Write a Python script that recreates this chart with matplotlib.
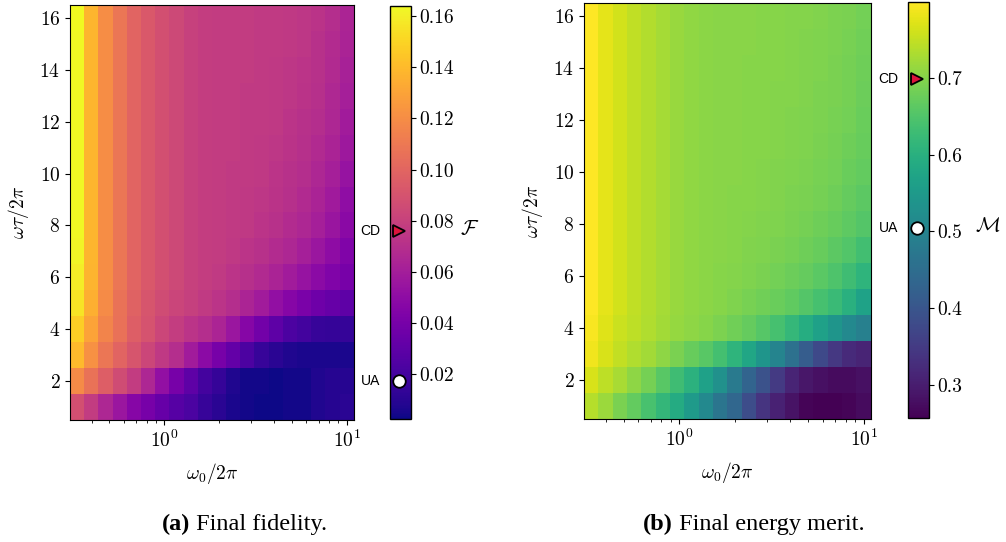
import numpy as np
import matplotlib
matplotlib.use("Agg")
import matplotlib.pyplot as plt

plt.rcParams['font.family'] = 'serif'
plt.rcParams['font.serif'] = ['cmr10']
plt.rcParams['mathtext.fontset'] = 'cm'
plt.rcParams['axes.formatter.use_mathtext'] = True
plt.rcParams['axes.unicode_minus'] = False

# drive frequency omega_0/2pi (log grid) and protocol duration omega*tau/2pi
omega0 = [0.3333, 0.3986, 0.4767, 0.5701, 0.6818, 0.8153, 0.9751, 1.1661, 1.3945, 1.6677,
          1.9944, 2.3851, 2.8523, 3.4111, 4.0793, 4.8784, 5.8341, 6.9770, 8.3438, 10.0]
omega_tau = [1, 2, 3, 4, 5, 6, 7, 8, 9, 10, 11, 12, 13, 14, 15, 16]

# final fidelity, one row per omega_tau value (bottom to top)
fidelity = [
    [0.088, 0.077, 0.065, 0.056, 0.046, 0.040, 0.033, 0.027, 0.022, 0.015, 0.010, 0.006, 0.004, 0.0024, 0.0024, 0.004, 0.004, 0.007, 0.009, 0.010],
    [0.119, 0.107, 0.096, 0.086, 0.077, 0.065, 0.052, 0.040, 0.030, 0.020, 0.014, 0.007, 0.004, 0.004, 0.0024, 0.004, 0.004, 0.007, 0.009, 0.009],
    [0.140, 0.122, 0.109, 0.099, 0.091, 0.083, 0.075, 0.069, 0.059, 0.049, 0.040, 0.032, 0.023, 0.015, 0.010, 0.007, 0.006, 0.006, 0.006, 0.006],
    [0.148, 0.130, 0.116, 0.106, 0.096, 0.090, 0.083, 0.078, 0.073, 0.069, 0.064, 0.056, 0.046, 0.038, 0.030, 0.023, 0.019, 0.015, 0.014, 0.014],
    [0.156, 0.135, 0.119, 0.107, 0.098, 0.091, 0.086, 0.082, 0.079, 0.076, 0.073, 0.069, 0.064, 0.059, 0.052, 0.046, 0.041, 0.036, 0.033, 0.030],
    [0.159, 0.137, 0.120, 0.109, 0.099, 0.093, 0.088, 0.084, 0.080, 0.078, 0.076, 0.073, 0.070, 0.067, 0.063, 0.059, 0.054, 0.049, 0.044, 0.040],
    [0.162, 0.138, 0.120, 0.109, 0.099, 0.093, 0.088, 0.084, 0.080, 0.078, 0.077, 0.075, 0.073, 0.071, 0.068, 0.065, 0.061, 0.056, 0.050, 0.044],
    [0.163, 0.138, 0.120, 0.109, 0.099, 0.093, 0.088, 0.084, 0.080, 0.078, 0.077, 0.076, 0.075, 0.073, 0.071, 0.068, 0.065, 0.061, 0.055, 0.048],
    [0.163, 0.138, 0.120, 0.109, 0.099, 0.093, 0.088, 0.084, 0.080, 0.078, 0.077, 0.076, 0.075, 0.074, 0.072, 0.070, 0.067, 0.063, 0.058, 0.051],
    [0.163, 0.138, 0.120, 0.109, 0.099, 0.093, 0.088, 0.084, 0.080, 0.078, 0.077, 0.076, 0.076, 0.075, 0.073, 0.071, 0.069, 0.065, 0.061, 0.054],
    [0.163, 0.138, 0.120, 0.109, 0.099, 0.093, 0.088, 0.084, 0.080, 0.078, 0.077, 0.077, 0.076, 0.075, 0.074, 0.072, 0.070, 0.067, 0.063, 0.057],
    [0.163, 0.138, 0.120, 0.109, 0.099, 0.093, 0.088, 0.084, 0.080, 0.078, 0.077, 0.077, 0.076, 0.076, 0.075, 0.073, 0.071, 0.069, 0.065, 0.059],
    [0.163, 0.138, 0.120, 0.109, 0.099, 0.093, 0.088, 0.084, 0.080, 0.078, 0.077, 0.077, 0.076, 0.076, 0.075, 0.074, 0.072, 0.070, 0.066, 0.061],
    [0.163, 0.138, 0.120, 0.109, 0.099, 0.093, 0.088, 0.084, 0.080, 0.078, 0.077, 0.077, 0.077, 0.076, 0.075, 0.074, 0.073, 0.071, 0.067, 0.062],
    [0.163, 0.138, 0.120, 0.109, 0.099, 0.093, 0.088, 0.084, 0.080, 0.078, 0.077, 0.077, 0.077, 0.076, 0.076, 0.075, 0.074, 0.071, 0.068, 0.063],
    [0.164, 0.138, 0.120, 0.109, 0.099, 0.093, 0.088, 0.084, 0.080, 0.078, 0.077, 0.077, 0.077, 0.076, 0.076, 0.075, 0.074, 0.072, 0.069, 0.064],
]

# final energy merit, same grid
merit = [
    [0.739, 0.718, 0.691, 0.669, 0.642, 0.615, 0.588, 0.550, 0.512, 0.468, 0.436, 0.382, 0.338, 0.306, 0.284, 0.262, 0.257, 0.258, 0.262, 0.273],
    [0.766, 0.745, 0.729, 0.707, 0.685, 0.658, 0.631, 0.604, 0.566, 0.528, 0.479, 0.430, 0.393, 0.349, 0.311, 0.290, 0.279, 0.273, 0.273, 0.279],
    [0.788, 0.766, 0.750, 0.734, 0.723, 0.707, 0.691, 0.674, 0.658, 0.636, 0.609, 0.577, 0.539, 0.501, 0.458, 0.414, 0.376, 0.344, 0.322, 0.311],
    [0.794, 0.772, 0.756, 0.745, 0.734, 0.724, 0.714, 0.707, 0.701, 0.692, 0.682, 0.671, 0.656, 0.640, 0.618, 0.593, 0.566, 0.539, 0.512, 0.490],
    [0.799, 0.777, 0.761, 0.748, 0.737, 0.727, 0.716, 0.710, 0.705, 0.700, 0.695, 0.688, 0.682, 0.675, 0.666, 0.655, 0.640, 0.624, 0.600, 0.570],
    [0.799, 0.777, 0.761, 0.748, 0.737, 0.727, 0.716, 0.710, 0.704, 0.701, 0.698, 0.694, 0.689, 0.684, 0.678, 0.670, 0.660, 0.647, 0.630, 0.610],
    [0.799, 0.777, 0.761, 0.748, 0.737, 0.727, 0.716, 0.710, 0.705, 0.702, 0.700, 0.697, 0.694, 0.690, 0.685, 0.679, 0.672, 0.663, 0.651, 0.635],
    [0.799, 0.777, 0.761, 0.748, 0.737, 0.727, 0.716, 0.710, 0.705, 0.702, 0.701, 0.699, 0.697, 0.694, 0.690, 0.686, 0.680, 0.674, 0.665, 0.654],
    [0.799, 0.777, 0.761, 0.748, 0.737, 0.727, 0.716, 0.710, 0.705, 0.703, 0.701, 0.700, 0.698, 0.696, 0.693, 0.690, 0.685, 0.679, 0.671, 0.662],
    [0.799, 0.777, 0.761, 0.748, 0.737, 0.727, 0.716, 0.710, 0.705, 0.703, 0.702, 0.700, 0.699, 0.697, 0.695, 0.692, 0.688, 0.683, 0.676, 0.668],
    [0.799, 0.777, 0.761, 0.748, 0.737, 0.727, 0.716, 0.710, 0.705, 0.703, 0.702, 0.701, 0.700, 0.698, 0.696, 0.694, 0.691, 0.686, 0.680, 0.672],
    [0.799, 0.777, 0.761, 0.748, 0.737, 0.727, 0.716, 0.710, 0.705, 0.703, 0.702, 0.701, 0.700, 0.699, 0.697, 0.695, 0.692, 0.688, 0.683, 0.675],
    [0.799, 0.777, 0.761, 0.748, 0.737, 0.727, 0.716, 0.710, 0.705, 0.703, 0.702, 0.701, 0.700, 0.699, 0.698, 0.696, 0.693, 0.690, 0.685, 0.678],
    [0.799, 0.777, 0.761, 0.748, 0.737, 0.727, 0.716, 0.710, 0.705, 0.703, 0.702, 0.701, 0.701, 0.700, 0.698, 0.697, 0.694, 0.691, 0.686, 0.680],
    [0.799, 0.777, 0.761, 0.748, 0.737, 0.727, 0.716, 0.710, 0.705, 0.703, 0.702, 0.702, 0.701, 0.700, 0.699, 0.697, 0.695, 0.692, 0.688, 0.682],
    [0.799, 0.777, 0.761, 0.748, 0.737, 0.727, 0.716, 0.710, 0.705, 0.703, 0.702, 0.702, 0.701, 0.700, 0.699, 0.698, 0.696, 0.693, 0.689, 0.683],
]

# reference protocols shown on the colorbars: (label, fidelity, merit, marker, colour)
protocols = [
    ("CD", 0.0759, 0.699, ">", "crimson"),
    ("UA", 0.0173, 0.504, "o", "white"),
]

fid_ticks = [0.02, 0.04, 0.06, 0.08, 0.10, 0.12, 0.14, 0.16]
merit_ticks = [0.3, 0.4, 0.5, 0.6, 0.7]


def cell_edges_log(c):
    lc = np.log10(c)
    mid = (lc[:-1] + lc[1:]) / 2
    return 10 ** np.concatenate([[2 * lc[0] - mid[0]], mid, [2 * lc[-1] - mid[-1]]])


def cell_edges_lin(c):
    c = np.asarray(c, dtype=float)
    mid = (c[:-1] + c[1:]) / 2
    return np.concatenate([[2 * c[0] - mid[0]], mid, [2 * c[-1] - mid[-1]]])


def panel(fig, ax_rect, cax_rect, data, cmap, ticks, fmt, cbar_label, col):
    ax = fig.add_axes(ax_rect)
    cax = fig.add_axes(cax_rect)
    xe = cell_edges_log(omega0)
    ye = cell_edges_lin(omega_tau)
    mesh = ax.pcolormesh(xe, ye, np.array(data), cmap=cmap, shading='flat')
    ax.set_xscale('log')
    ax.set_xlim(xe[0], xe[-1])
    ax.set_ylim(ye[0], ye[-1])
    ax.set_yticks([2, 4, 6, 8, 10, 12, 14, 16])
    ax.tick_params(labelsize=14)
    ax.set_xlabel(r'$\omega_0/2\pi$', fontsize=14, labelpad=7)
    ax.set_ylabel(r'$\omega\tau/2\pi$', fontsize=14, labelpad=6)

    cb = fig.colorbar(mesh, cax=cax, ticks=ticks, format=fmt)
    cb.ax.tick_params(labelsize=14, pad=2.5)
    cb.outline.set_linewidth(1.0)
    for name, fval, mval, mk, fc in protocols:
        v = fval if col == 0 else mval
        cax.plot(0.42, v, marker=mk, ms=9, mfc=fc, mec='black', mew=1.3, clip_on=False)
        cax.text(-0.45, v, name, ha='right', va='center', fontsize=10,
                 family='Liberation Sans')
    cax.text(3.8, 0.46, cbar_label, transform=cax.transAxes, fontsize=15,
             ha='center', va='center')
    return ax


fig = plt.figure(figsize=(10.06, 5.42), dpi=100)

panel(fig, [0.0696, 0.2251, 0.2823, 0.7657], [0.3877, 0.2269, 0.0209, 0.7620],
      fidelity, 'plasma', fid_ticks, '%.2f', r'$\mathcal{F}$', 0)
panel(fig, [0.5805, 0.2269, 0.2853, 0.7675], [0.9026, 0.2288, 0.0209, 0.7675],
      merit, 'viridis', merit_ticks, '%.1f', r'$\mathcal{M}$', 1)

# sub-captions: bold tag followed by plain description
for xs, tag, rest in [(0.189, '(a)', ' Final fidelity.'), (0.669, '(b)', ' Final energy merit.')]:
    fig.text(xs, 0.022, tag, fontsize=17.5, weight='bold', family='Liberation Serif',
             ha='right', va='baseline')
    fig.text(xs, 0.022, rest, fontsize=17.5, family='Liberation Serif', ha='left', va='baseline')

fig.savefig('out.png', dpi=100)
